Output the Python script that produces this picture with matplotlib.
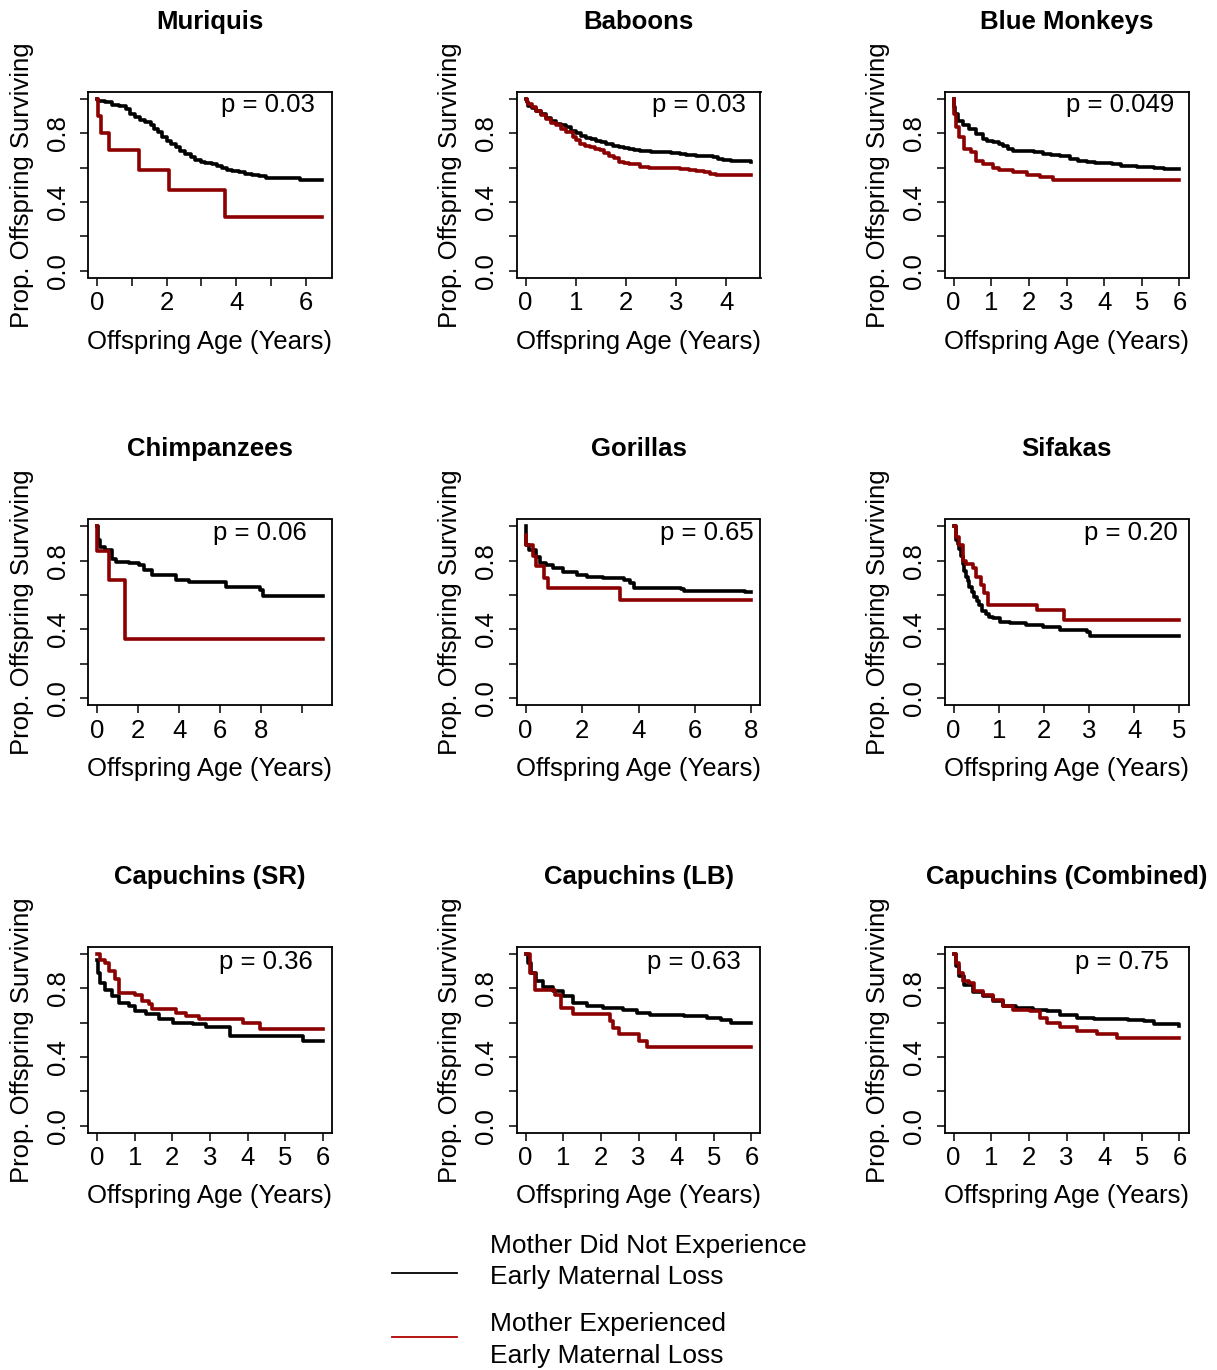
import numpy as np
import matplotlib
matplotlib.use('Agg')
import matplotlib.pyplot as plt
from matplotlib.lines import Line2D

# R base-graphics look
plt.rcParams['font.family'] = 'sans-serif'
plt.rcParams['font.sans-serif'] = ['Liberation Sans', 'DejaVu Sans']
plt.rcParams['figure.facecolor'] = 'white'
plt.rcParams['axes.facecolor'] = 'white'

# ---- data: Kaplan-Meier curves (time in years, survival) ----
muriquis_black_t = [0, 0.04, 0.24, 0.43, 0.62, 0.82, 0.96, 1.10, 1.25, 1.39, 1.54, 1.63, 1.76, 1.87, 2.02, 2.14,
                    2.26, 2.40, 2.54, 2.69, 2.83, 2.98, 3.12, 3.31, 3.45, 3.60, 3.74, 3.89, 4.08, 4.27, 4.46, 4.65,
                    4.85, 5.85, 6.48]
muriquis_black_s = [1.0, 0.99, 0.981, 0.967, 0.961, 0.942, 0.913, 0.893, 0.878, 0.864, 0.845, 0.825, 0.806, 0.777,
                    0.757, 0.738, 0.718, 0.695, 0.680, 0.660, 0.645, 0.631, 0.625, 0.621, 0.612, 0.598, 0.586, 0.579,
                    0.573, 0.563, 0.557, 0.550, 0.542, 0.530, 0.530]
muriquis_red_t = [0, 0.02, 0.1, 0.34, 1.2, 2.06, 3.69, 6.48]
muriquis_red_s = [1.0, 0.9, 0.8, 0.7, 0.583, 0.467, 0.311, 0.311]

baboons_black_t = [0, 0.02, 0.05, 0.12, 0.21, 0.31, 0.41, 0.51, 0.61, 0.71, 0.81, 0.91, 1.01, 1.11, 1.21, 1.31,
                   1.41, 1.51, 1.61, 1.74, 1.87, 1.97, 2.07, 2.17, 2.27, 2.50, 2.74, 2.90, 3.07, 3.20, 3.40, 3.55,
                   3.73, 3.83, 3.93, 4.10, 4.27, 4.50]
baboons_black_s = [1.0, 0.98, 0.96, 0.945, 0.93, 0.91, 0.89, 0.87, 0.855, 0.845, 0.835, 0.815, 0.80, 0.785, 0.77,
                   0.765, 0.757, 0.748, 0.738, 0.728, 0.718, 0.713, 0.709, 0.702, 0.695, 0.692, 0.689, 0.685, 0.68,
                   0.676, 0.67, 0.665, 0.66, 0.652, 0.645, 0.64, 0.637, 0.635]
baboons_red_t = [0, 0.02, 0.05, 0.12, 0.21, 0.31, 0.41, 0.51, 0.61, 0.71, 0.81, 0.94, 1.01, 1.08, 1.18, 1.28, 1.38,
                 1.48, 1.57, 1.67, 1.77, 1.87, 1.97, 2.07, 2.27, 2.45, 2.61, 2.85, 3.07, 3.25, 3.40, 3.55, 3.67, 3.80,
                 3.93, 4.50]
baboons_red_s = [1.0, 0.98, 0.97, 0.95, 0.93, 0.905, 0.88, 0.862, 0.845, 0.825, 0.806, 0.777, 0.76, 0.738, 0.727,
                 0.718, 0.71, 0.70, 0.685, 0.67, 0.655, 0.63, 0.625, 0.62, 0.606, 0.60, 0.598, 0.595, 0.592, 0.586,
                 0.579, 0.572, 0.563, 0.559, 0.557, 0.557]

blue_black_t = [0, 0.02, 0.04, 0.11, 0.24, 0.42, 0.60, 0.78, 0.90, 1.04, 1.20, 1.31, 1.45, 1.58, 1.94, 2.15, 2.38,
                2.60, 2.83, 3.10, 3.30, 3.54, 3.75, 3.99, 4.20, 4.44, 4.88, 5.33, 5.60, 6.0]
blue_black_s = [1.0, 0.95, 0.91, 0.874, 0.845, 0.825, 0.796, 0.767, 0.757, 0.748, 0.736, 0.728, 0.71, 0.699, 0.695,
                0.688, 0.68, 0.676, 0.67, 0.65, 0.64, 0.63, 0.627, 0.625, 0.618, 0.61, 0.602, 0.598, 0.59, 0.59]
blue_red_t = [0, 0.02, 0.06, 0.15, 0.29, 0.46, 0.60, 0.78, 1.04, 1.22, 1.58, 1.94, 2.29, 2.65, 6.0]
blue_red_s = [1.0, 0.91, 0.835, 0.777, 0.709, 0.689, 0.64, 0.62, 0.60, 0.583, 0.573, 0.559, 0.544, 0.53, 0.53]

chimp_black_t = [0, 0.03, 0.16, 0.41, 0.73, 0.90, 1.55, 2.04, 2.29, 2.69, 3.84, 4.49, 6.29, 7.92, 8.08, 11.0]
chimp_black_s = [1.0, 0.92, 0.88, 0.86, 0.81, 0.79, 0.787, 0.774, 0.745, 0.716, 0.69, 0.677, 0.648, 0.629, 0.596, 0.596]
chimp_red_t = [0, 0.02, 0.57, 1.36, 11.0]
chimp_red_s = [1.0, 0.857, 0.686, 0.343, 0.343]

gorilla_black_t = [0, 0.02, 0.14, 0.38, 0.50, 0.74, 0.98, 1.33, 1.81, 2.17, 2.76, 3.48, 3.71, 3.83, 4.31, 5.50, 5.62,
                   7.76, 8.0]
gorilla_black_s = [1.0, 0.89, 0.86, 0.82, 0.784, 0.774, 0.755, 0.736, 0.717, 0.707, 0.698, 0.688, 0.669, 0.644, 0.64,
                   0.637, 0.625, 0.618, 0.618]
gorilla_red_t = [0, 0.02, 0.26, 0.38, 0.65, 0.80, 3.36, 8.0]
gorilla_red_s = [0.95, 0.89, 0.83, 0.77, 0.70, 0.64, 0.574, 0.574]

sifaka_black_t = [0, 0.05, 0.09, 0.13, 0.16, 0.20, 0.24, 0.28, 0.31, 0.35, 0.40, 0.46, 0.51, 0.57, 0.64, 0.72, 0.79,
                  0.87, 1.02, 1.24, 1.61, 1.99, 2.36, 2.95, 3.03, 5.0]
sifaka_black_s = [1.0, 0.92, 0.90, 0.87, 0.83, 0.78, 0.74, 0.706, 0.68, 0.648, 0.62, 0.59, 0.565, 0.54, 0.51, 0.49,
                  0.475, 0.464, 0.445, 0.435, 0.426, 0.416, 0.397, 0.387, 0.362, 0.362]
sifaka_red_t = [0, 0.05, 0.13, 0.20, 0.28, 0.42, 0.50, 0.61, 0.68, 0.76, 1.84, 2.45, 5.0]
sifaka_red_s = [1.0, 0.94, 0.89, 0.80, 0.78, 0.76, 0.706, 0.658, 0.61, 0.54, 0.513, 0.455, 0.455]

sr_black_t = [0, 0.02, 0.09, 0.22, 0.40, 0.58, 0.85, 1.02, 1.29, 1.65, 2.01, 2.54, 2.90, 3.52, 5.48, 6.0]
sr_black_s = [0.965, 0.89, 0.83, 0.79, 0.754, 0.715, 0.696, 0.667, 0.648, 0.619, 0.60, 0.59, 0.577, 0.523, 0.494, 0.494]
sr_red_t = [0, 0.09, 0.22, 0.31, 0.49, 0.58, 1.02, 1.20, 1.38, 1.47, 2.09, 2.36, 2.72, 3.88, 4.32, 6.0]
sr_red_s = [1.0, 0.965, 0.946, 0.898, 0.854, 0.773, 0.763, 0.725, 0.706, 0.677, 0.658, 0.638, 0.619, 0.60, 0.565, 0.565]

lb_black_t = [0, 0.06, 0.15, 0.28, 0.46, 0.73, 1.0, 1.26, 1.62, 2.07, 2.60, 2.96, 3.31, 4.20, 4.83, 5.18, 5.45, 6.0]
lb_black_s = [1.0, 0.946, 0.888, 0.84, 0.81, 0.783, 0.754, 0.715, 0.696, 0.687, 0.673, 0.658, 0.642, 0.638, 0.629,
              0.615, 0.60, 0.60]
lb_red_t = [0, 0.11, 0.24, 0.77, 0.95, 1.26, 2.24, 2.33, 2.47, 3.0, 3.22, 6.0]
lb_red_s = [1.0, 0.89, 0.792, 0.763, 0.687, 0.648, 0.61, 0.571, 0.533, 0.494, 0.456, 0.456]

comb_black_t = [0, 0.06, 0.15, 0.29, 0.51, 0.78, 1.04, 1.31, 1.67, 2.12, 2.47, 2.83, 3.28, 3.72, 4.17, 4.62, 5.06,
                5.33, 6.0]
comb_black_s = [1.0, 0.93, 0.87, 0.82, 0.78, 0.755, 0.725, 0.696, 0.683, 0.673, 0.667, 0.642, 0.629, 0.623, 0.619,
                0.615, 0.609, 0.59, 0.58]
comb_red_t = [0, 0.06, 0.15, 0.24, 0.42, 0.55, 0.78, 1.04, 1.31, 1.58, 2.03, 2.29, 2.47, 2.83, 3.28, 3.81, 4.35, 6.0]
comb_red_s = [1.0, 0.946, 0.89, 0.84, 0.83, 0.783, 0.763, 0.734, 0.696, 0.673, 0.667, 0.629, 0.60, 0.577, 0.551,
              0.532, 0.513, 0.513]

titles = ['Muriquis', 'Baboons', 'Blue Monkeys', 'Chimpanzees', 'Gorillas', 'Sifakas',
          'Capuchins (SR)', 'Capuchins (LB)', 'Capuchins (Combined)']
p_labels = ['p = 0.03', 'p = 0.03', 'p = 0.049', 'p = 0.06', 'p = 0.65', 'p = 0.20',
            'p = 0.36', 'p = 0.63', 'p = 0.75']
x_max = [6.5, 4.5, 6, 11, 8, 5, 6, 6, 6]
x_ticks = [list(range(7)), list(range(5)), list(range(7)), list(range(0, 11, 2)), list(range(0, 9, 2)),
           list(range(6)), list(range(7)), list(range(7)), list(range(7))]
x_tick_labels = [['0', '', '2', '', '4', '', '6'], None, None, ['0', '2', '4', '6', '8', ''], None, None,
                 None, None, None]
y_ticks = [0, 0.2, 0.4, 0.6, 0.8, 1.0]
y_tick_labels = ['0.0', '', '0.4', '', '0.8', '']

curves = [
    (muriquis_black_t, muriquis_black_s, muriquis_red_t, muriquis_red_s),
    (baboons_black_t, baboons_black_s, baboons_red_t, baboons_red_s),
    (blue_black_t, blue_black_s, blue_red_t, blue_red_s),
    (chimp_black_t, chimp_black_s, chimp_red_t, chimp_red_s),
    (gorilla_black_t, gorilla_black_s, gorilla_red_t, gorilla_red_s),
    (sifaka_black_t, sifaka_black_s, sifaka_red_t, sifaka_red_s),
    (sr_black_t, sr_black_s, sr_red_t, sr_red_s),
    (lb_black_t, lb_black_s, lb_red_t, lb_red_s),
    (comb_black_t, comb_black_s, comb_red_t, comb_red_s),
]

legend_labels = ['Mother Did Not Experience\nEarly Maternal Loss', 'Mother Experienced\nEarly Maternal Loss']

# ---- layout (pixels) ----
W, H = 1217, 1370
col_left = [88, 516.5, 944.5]
row_top = [92, 519.5, 947]
box_w, box_h = 244, 185.5
p_inset = [17, 15, 14, 25, 7, 11, 19, 20, 20]   # px from right edge of box
p_down = [13, 13, 13, 14, 14, 14, 15, 15, 15]   # px from top edge of box
RED = '#8B0000'
FS = 18.5

fig = plt.figure(figsize=(W / 100, H / 100), dpi=100)

for i in range(9):
    r, c = divmod(i, 3)
    left = col_left[c] / W
    bottom = 1 - (row_top[r] + box_h) / H
    ax = fig.add_axes([left, bottom, box_w / W, box_h / H])

    bt, bs, rt, rs = curves[i]
    ax.step(bt, bs, where='post', color='black', lw=2.6, zorder=3)
    ax.step(rt, rs, where='post', color=RED, lw=2.6, zorder=4)

    ax.set_xlim(-0.04 * x_max[i], 1.04 * x_max[i])
    ax.set_ylim(-0.04, 1.04)
    ax.set_xticks(x_ticks[i])
    if x_tick_labels[i] is not None:
        ax.set_xticklabels(x_tick_labels[i])
    ax.set_yticks(y_ticks)
    ax.set_yticklabels(y_tick_labels)

    ax.tick_params(direction='out', length=6, width=1.1, labelsize=FS, colors='black')
    ax.tick_params(axis='x', pad=4)
    ax.tick_params(axis='y', pad=7, labelrotation=90)
    for lab in ax.get_yticklabels():
        lab.set_va('center')
    for sp in ax.spines.values():
        sp.set_linewidth(1.3)

    ax.text(0.5, 1 + 70 / box_h, titles[i], transform=ax.transAxes, ha='center', va='center',
            fontsize=FS, fontweight='bold')
    ax.text(0.5, -64 / box_h, 'Offspring Age (Years)', transform=ax.transAxes, ha='center', va='center',
            fontsize=FS)
    ax.text(-66 / box_w, 0.5, 'Prop. Offspring Surviving', transform=ax.transAxes, ha='center', va='center',
            rotation=90, fontsize=FS)
    ax.text(1 - p_inset[i] / box_w, 1 - p_down[i] / box_h, p_labels[i], transform=ax.transAxes,
            ha='right', va='center', fontsize=FS)

# ---- legend at the bottom ----
leg_colors = ['black', '#B00000']
leg_line_y = [1273, 1337]
leg_text_y = [(1246, 1277), (1324, 1356)]
for k in range(2):
    y = 1 - leg_line_y[k] / H
    fig.add_artist(Line2D([392 / W, 457 / W], [y, y], color=leg_colors[k], lw=1.3))
    for line, ty in zip(legend_labels[k].split('\n'), leg_text_y[k]):
        fig.text(490 / W, 1 - ty / H, line, ha='left', va='center', fontsize=19)

fig.savefig('out.png', dpi=100)
